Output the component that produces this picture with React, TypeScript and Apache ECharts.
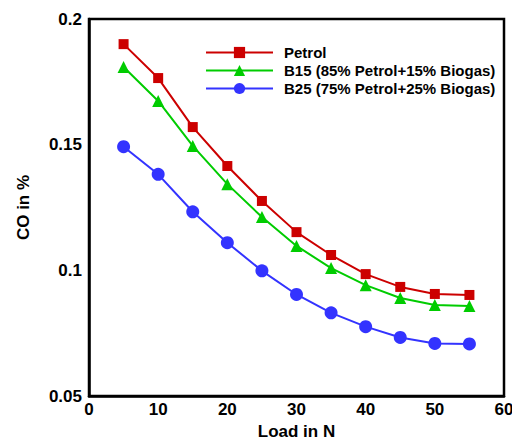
import React, { useEffect, useRef } from "react";
import * as echarts from "echarts";

const loads = [5, 10, 15, 20, 25, 30, 35, 40, 45, 50, 55];
const petrol = [0.19, 0.1765, 0.157, 0.1415, 0.1276, 0.1152, 0.1061, 0.0985, 0.0934, 0.0906, 0.0902];
const b15 = [0.1809, 0.1674, 0.1495, 0.1343, 0.1212, 0.1097, 0.1009, 0.0941, 0.089, 0.0862, 0.0858];
const b25 = [0.1492, 0.1382, 0.1233, 0.111, 0.0998, 0.0904, 0.0831, 0.0776, 0.0733, 0.0709, 0.0707];
const seriesNames = ["Petrol", "B15 (85% Petrol+15% Biogas)", "B25 (75% Petrol+25% Biogas)"];
const colors = ["#cc0000", "#00cc00", "#3333ff"];
const symbols = ["rect", "triangle", "circle"];
const symbolSizes = [10, 12, 13];

const FONT = "'Liberation Sans', Arial, sans-serif";

export default function App() {
  const ref = useRef<HTMLDivElement>(null);
  useEffect(() => {
    document.body.style.margin = "0";
    if (!ref.current) return;
    const chart = echarts.init(ref.current, undefined, { renderer: "svg" });
    const datasets = [petrol, b15, b25];
    chart.setOption({
      animation: false,
      backgroundColor: "#fff",
      grid: {
        left: 89,
        top: 19,
        right: 8,
        bottom: 45,
        containLabel: false,
        outerBoundsMode: "none",
        show: true,
        borderColor: "#000",
        borderWidth: 2.5,
      },
      legend: {
        orient: "vertical",
        left: 205,
        top: 45,
        padding: 0,
        itemWidth: 67,
        itemHeight: 14,
        itemGap: 3,
        data: seriesNames,
        textStyle: {
          fontFamily: FONT,
          fontWeight: "bold",
          fontSize: 15,
          color: "#000",
          padding: [0, 0, 0, 6],
        },
      },
      xAxis: {
        type: "value",
        min: 0,
        max: 60,
        interval: 10,
        name: "Load in N",
        nameLocation: "middle",
        nameGap: 26,
        nameTextStyle: { fontFamily: FONT, fontWeight: "bold", fontSize: 17, color: "#000" },
        axisLine: { show: true, lineStyle: { color: "#000", width: 2.5 } },
        axisTick: { show: false },
        splitLine: { show: false },
        axisLabel: { fontFamily: FONT, fontWeight: "bold", fontSize: 17, color: "#000", margin: 5 },
      },
      yAxis: {
        type: "value",
        min: 0.05,
        max: 0.2,
        interval: 0.05,
        name: "CO in %",
        nameLocation: "middle",
        nameGap: 57,
        nameTextStyle: { fontFamily: FONT, fontWeight: "bold", fontSize: 17, color: "#000" },
        axisLine: { show: true, lineStyle: { color: "#000", width: 2.5 } },
        axisTick: { show: false },
        splitLine: { show: false },
        axisLabel: {
          fontFamily: FONT,
          fontWeight: "bold",
          fontSize: 17,
          color: "#000",
          margin: 7,
          formatter: (v: number) => String(Number(v.toFixed(2))),
        },
      },
      series: datasets.map((d, i) => ({
        name: seriesNames[i],
        type: "line",
        data: loads.map((x, j) => [x, d[j]]),
        symbol: symbols[i],
        symbolSize: symbolSizes[i],
        showAllSymbol: true,
        lineStyle: { color: colors[i], width: 2 },
        itemStyle: { color: colors[i] },
      })),
    });
    return () => chart.dispose();
  }, []);
  return <div ref={ref} style={{ width: 512, height: 441 }} />;
}
